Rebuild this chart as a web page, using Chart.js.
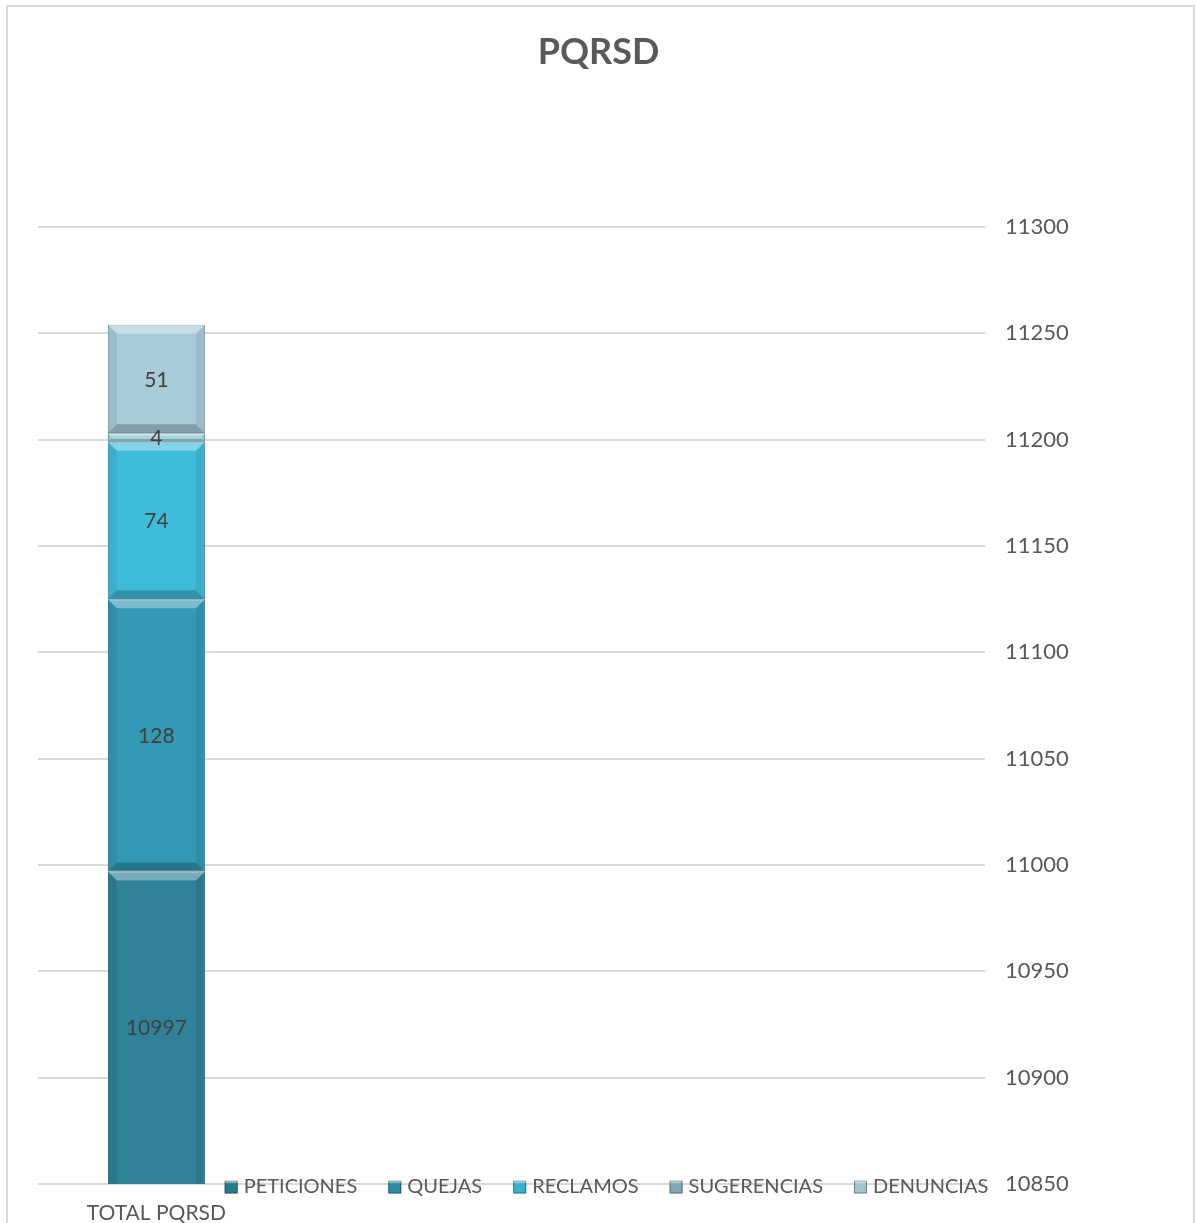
<!DOCTYPE html>
<html>
<head>
<meta charset="utf-8">
<script src="https://cdn.jsdelivr.net/npm/chart.js@4/dist/chart.umd.min.js"></script>
<style>
  html, body { margin: 0; padding: 0; background: #fff; }
  #wrap { width: 1197px; height: 1223px; }
</style>
</head>
<body>
<div id="wrap"><canvas id="myChart" width="1197" height="1223"></canvas></div>
<script>
"use strict";
// only the first slot holds the bar, the rest keep it at the left like the original
const categories = ["TOTAL PQRSD", "", "", ""];
const seriesNames = ["PETICIONES", "QUEJAS", "RECLAMOS", "SUGERENCIAS", "DENUNCIAS"];
const peticiones = [10997, null, null, null];
const quejas = [128, null, null, null];
const reclamos = [74, null, null, null];
const sugerencias = [4, null, null, null];
const denuncias = [51, null, null, null];
const yMin = 10850;
const yMax = 11300;
const yStep = 50;

const fills = ["#2f8297", "#3399b4", "#40bcdb", "#a3d4e0", "#a7cbd8"];
const edges = ["#1f5e6e", "#23738a", "#2a8fa8", "#5f8f9c", "#7d9ca7"];
const legendFills = ["#2a7a8f", "#2e8ba4", "#37b0d0", "#7fa9b6", "#a0c4d0"];

const ctx = document.getElementById("myChart").getContext("2d");
const FONT = "Lato, 'Open Sans', sans-serif";

const excelLook = {
  id: "excelLook",
  beforeDraw(chart) {
    const c = chart.ctx;
    c.save();
    c.fillStyle = "#fff";
    c.fillRect(0, 0, chart.width, chart.height);
    c.strokeStyle = "#d9d9d9";
    c.lineWidth = 2;
    c.strokeRect(7, 6, chart.width - 10, chart.height + 10);
    c.restore();
  },
  afterDatasetsDraw(chart) {
    const c = chart.ctx;
    const area = chart.chartArea;
    c.save();
    c.beginPath();
    c.rect(area.left, area.top, area.right - area.left, area.bottom - area.top);
    c.clip();
    chart.data.datasets.forEach((ds, i) => {
      chart.getDatasetMeta(i).data.forEach((bar, j) => {
        if (ds.data[j] == null) return;
        const p = bar.getProps(["x", "y", "base", "width"], true);
        const l = p.x - p.width / 2, r = p.x + p.width / 2;
        const top = Math.min(p.y, p.base), bot = Math.max(p.y, p.base);
        const b = Math.min(9, (bot - top) / 3);
        // top highlight
        c.fillStyle = "rgba(255,255,255,0.35)";
        c.beginPath();
        c.moveTo(l, top); c.lineTo(r, top); c.lineTo(r - b, top + b); c.lineTo(l + b, top + b);
        c.closePath(); c.fill();
        // bottom shade
        c.fillStyle = "rgba(0,0,0,0.22)";
        c.beginPath();
        c.moveTo(l, bot); c.lineTo(r, bot); c.lineTo(r - b, bot - b); c.lineTo(l + b, bot - b);
        c.closePath(); c.fill();
        // sides
        c.fillStyle = "rgba(0,0,0,0.07)";
        c.beginPath();
        c.moveTo(l, top); c.lineTo(l + b, top + b); c.lineTo(l + b, bot - b); c.lineTo(l, bot);
        c.closePath(); c.fill();
        c.beginPath();
        c.moveTo(r, top); c.lineTo(r - b, top + b); c.lineTo(r - b, bot - b); c.lineTo(r, bot);
        c.closePath(); c.fill();
      });
    });
    c.restore();

    // value labels
    c.save();
    c.font = "21px " + FONT;
    c.fillStyle = "#404040";
    c.textAlign = "center";
    c.textBaseline = "middle";
    chart.data.datasets.forEach((ds, i) => {
      chart.getDatasetMeta(i).data.forEach((bar, j) => {
        if (ds.data[j] == null) return;
        const p = bar.getProps(["x", "y", "base"], true);
        const yb = Math.min(p.base, area.bottom);
        c.fillText(String(ds.data[j]), p.x, (p.y + yb) / 2 + 1);
      });
    });
    c.restore();
  },
  afterDraw(chart) {
    // legend sitting on the bottom gridline, as in the original
    const c = chart.ctx;
    c.save();
    c.font = "20px " + FONT;
    c.textBaseline = "middle";
    const box = 13, gapBox = 6, gapItem = 31;
    const items = chart.data.datasets.map((ds, i) => ({
      text: ds.label, color: legendFills[i], w: box + gapBox + c.measureText(ds.label).width
    }));
    const total = items.reduce((s, it) => s + it.w, 0) + gapItem * (items.length - 1);
    let x = chart.width / 2 + 8 - total / 2;
    const y = chart.chartArea.bottom + 3;
    items.forEach((it) => {
      const g = c.createLinearGradient(0, y - box / 2, 0, y + box / 2);
      g.addColorStop(0, "#ffffff");
      g.addColorStop(0.25, it.color);
      g.addColorStop(1, it.color);
      c.fillStyle = g;
      c.fillRect(x, y - box / 2, box, box);
      c.strokeStyle = "rgba(0,0,0,0.35)";
      c.lineWidth = 1;
      c.strokeRect(x + 0.5, y - box / 2 + 0.5, box - 1, box - 1);
      c.fillStyle = "#595959";
      c.fillText(it.text, x + box + gapBox, y);
      x += it.w + gapItem;
    });
    c.restore();
  }
};

const seriesValues = [peticiones, quejas, reclamos, sugerencias, denuncias];
const data = {
  labels: categories,
  datasets: seriesNames.map((name, i) => ({
    label: name,
    data: seriesValues[i],
    backgroundColor: fills[i],
    borderColor: edges[i],
    borderWidth: 1,
    borderSkipped: false,
    categoryPercentage: 1,
    barPercentage: 0.41,
  })),
};

const config = {
  type: "bar",
  data: data,
  plugins: [excelLook],
  options: {
    responsive: false,
    animation: false,
    layout: { padding: 0 },
    plugins: {
      legend: { display: false },
      tooltip: { enabled: false },
      title: {
        display: true,
        text: "PQRSD",
        color: "#595959",
        font: { family: FONT, size: 36, weight: "bold", lineHeight: 1.2 },
        padding: { top: 31, bottom: 152.8 },
      },
    },
    scales: {
      x: {
        stacked: true,
        grid: { display: false },
        border: { display: false },
        ticks: {
          color: "#595959",
          font: { family: FONT, size: 21 },
          padding: 9,
          maxRotation: 0,
          autoSkip: false,
        },
        afterFit(scale) { scale.height = 39; },
      },
      y: {
        stacked: true,
        position: "right",
        min: yMin,
        max: yMax,
        grid: { color: "#d9d9d9", lineWidth: 2, drawTicks: false },
        border: { display: false },
        ticks: {
          stepSize: yStep,
          color: "#595959",
          font: { family: FONT, size: 22 },
          padding: 20,
          callback: (val) => String(val),
        },
        afterFit(scale) { scale.width = 212; },
      },
      // empty strip on the left so the plot starts where the original does
      gutter: {
        axis: "y",
        position: "left",
        grid: { display: false },
        border: { display: false },
        ticks: { display: false },
        afterFit(scale) { scale.width = 38; },
      },
    },
  },
};

const myChart = new Chart(ctx, config);
</script>
</body>
</html>
